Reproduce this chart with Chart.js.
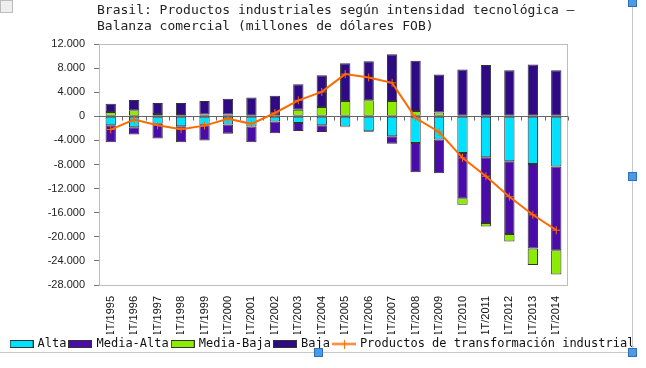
<!DOCTYPE html>
<html>
<head>
<meta charset="utf-8">
<script src="https://cdn.jsdelivr.net/npm/chart.js@4.4.1/dist/chart.umd.min.js"></script>
<style>
  html, body { margin: 0; padding: 0; background: #fff; }
  #wrap { position: relative; width: 646px; height: 368px; overflow: hidden; }
  #chart { position: absolute; left: 0; top: 0; }
  #title {
    position: absolute; left: 97px; top: 2px;
    font: 13px/16px "DejaVu Sans Mono", monospace; color: #222; white-space: pre;
  }
  .frame-r { position: absolute; left: 632px; top: 0; width: 1px; height: 352px; background: #c8c8c8; }
  .frame-b { position: absolute; left: 0; top: 352px; width: 632px; height: 1px; background: #c8c8c8; }
  .handle { position: absolute; width: 7px; height: 7px; background: #4a9be6; border: 1px solid #2d6fb8; }
  .icon { position: absolute; left: 0; top: 0; width: 11px; height: 11px; border: 1px solid #bbb; background: #eee; }
</style>
</head>
<body>
<div id="wrap">
  <canvas id="chart" width="646" height="368"></canvas>
  <div id="title">Brasil: Productos industriales según intensidad tecnológica –
Balanza comercial (millones de dólares FOB)</div>
  <div class="icon"></div>
  <div class="frame-r"></div>
  <div class="frame-b"></div>
  <div class="handle" style="left:628px;top:-2px"></div>
  <div class="handle" style="left:628px;top:172px"></div>
  <div class="handle" style="left:628px;top:348px"></div>
  <div class="handle" style="left:314px;top:348px"></div>
</div>
<script>
// categorías (trimestre 1 de cada año)
const categories = ['1T/1995', '1T/1996', '1T/1997', '1T/1998', '1T/1999', '1T/2000', '1T/2001',
  '1T/2002', '1T/2003', '1T/2004', '1T/2005', '1T/2006', '1T/2007', '1T/2008', '1T/2009',
  '1T/2010', '1T/2011', '1T/2012', '1T/2013', '1T/2014'];

// series (millones de dólares FOB)
const alta = [-1500, -1800, -1250, -1650, -1500, -1350, -1700, -850, -1100, -1500,
  -1700, -2500, -3300, -4450, -3850, -6100, -6800, -7450, -7900, -8350];
const mediaAlta = [-2800, -1200, -2450, -2650, -2500, -1550, -2600, -1950, -1350, -1100,
  -100, -100, -1250, -4850, -5600, -7500, -10900, -12100, -14050, -13900];
const mediaBaja = [700, 1000, 400, 200, 300, 300, 100, 100, 1100, 1550,
  2550, 2650, 2550, 900, 650, -1100, -600, -1250, -2750, -4000];
const baja = [1400, 1700, 1800, 2000, 2250, 2600, 3000, 3300, 4200, 5250,
  6250, 6500, 7750, 8300, 6300, 7750, 8500, 7650, 8600, 7650];
const transformacion = [-2200, -550, -1500, -2150, -1550, -400, -1250, 550, 2650, 4050,
  7000, 6450, 5550, -300, -2600, -6900, -9950, -13350, -16350, -18900];

// eje Y
const yMin = -28000;
const yMax = 12000;
const yStep = 4000;

const colors = {
  alta: '#00e1ff',
  mediaAlta: '#4a0ca8',
  mediaBaja: '#8ceb00',
  baja: '#2e0a85',
  linea: '#ff6a00'
};

function fmtMiles(v) {
  const s = String(Math.abs(v)).replace(/\B(?=(\d{3})+(?!\d))/g, '.');
  return (v < 0 ? '-' : '') + s;
}

// iconos de leyenda dibujados a mano
function boxIcon(color) {
  const c = document.createElement('canvas');
  c.width = 24; c.height = 8;
  const g = c.getContext('2d');
  g.fillStyle = color;
  g.fillRect(0, 0, 24, 8);
  g.strokeStyle = '#333';
  g.lineWidth = 1;
  g.strokeRect(0.5, 0.5, 23, 7);
  return c;
}
function lineIcon(color) {
  const c = document.createElement('canvas');
  c.width = 24; c.height = 9;
  const g = c.getContext('2d');
  g.strokeStyle = color;
  g.lineWidth = 2;
  g.beginPath(); g.moveTo(0, 4.5); g.lineTo(24, 4.5); g.stroke();
  g.lineWidth = 1;
  g.beginPath(); g.moveTo(12.5, 0); g.lineTo(12.5, 9); g.stroke();
  return c;
}
const legendIcons = [boxIcon(colors.alta), boxIcon(colors.mediaAlta), boxIcon(colors.mediaBaja),
  boxIcon(colors.baja), lineIcon(colors.linea)];

// marco del área de trazado + línea del cero con marcas
const plotFrame = {
  id: 'plotFrame',
  beforeDatasetsDraw(chart) {
    const { ctx, chartArea: a, scales } = chart;
    const y0 = Math.round(scales.y.getPixelForValue(0)) + 0.5;
    ctx.save();
    ctx.strokeStyle = '#bdbdbd';
    ctx.lineWidth = 1;
    ctx.strokeRect(a.left + 0.5, a.top + 0.5, a.right - a.left - 1, a.bottom - a.top);
    ctx.strokeStyle = '#666';
    ctx.beginPath();
    ctx.moveTo(a.left, y0); ctx.lineTo(a.right, y0);
    const w = (a.right - a.left) / categories.length;
    for (let i = 1; i <= categories.length; i++) {
      const x = Math.round(a.left + i * w) + 0.5;
      ctx.moveTo(x, y0); ctx.lineTo(x, y0 + 4);
    }
    ctx.stroke();
    ctx.restore();
  }
};

const barCommon = { borderColor: '#333', borderWidth: 1, borderSkipped: false, order: 1,
  barPercentage: 0.44, categoryPercentage: 1 };

new Chart(document.getElementById('chart'), {
  type: 'bar',
  data: {
    labels: categories,
    datasets: [
      { label: 'Alta', data: alta, backgroundColor: colors.alta, ...barCommon },
      { label: 'Media-Alta', data: mediaAlta, backgroundColor: colors.mediaAlta, ...barCommon },
      { label: 'Media-Baja', data: mediaBaja, backgroundColor: colors.mediaBaja, ...barCommon },
      { label: 'Baja', data: baja, backgroundColor: colors.baja, ...barCommon },
      {
        type: 'line', label: 'Productos de transformación industrial', data: transformacion,
        stack: 'linea', order: 0,
        borderColor: colors.linea, backgroundColor: colors.linea, borderWidth: 2,
        pointStyle: 'cross', pointRadius: 4, pointBorderWidth: 1, pointBorderColor: colors.linea,
        tension: 0, fill: false
      }
    ]
  },
  options: {
    responsive: false,
    animation: false,
    layout: { padding: { top: 44, bottom: 8, left: 0, right: 0 } },
    scales: {
      x: {
        stacked: true,
        grid: { display: false, drawTicks: false },
        border: { display: false },
        ticks: {
          minRotation: 90, maxRotation: 90, padding: 11, autoSkip: false,
          color: '#111', font: { family: '"Liberation Sans", Arial, sans-serif', size: 11 }
        },
        afterFit: s => { s.height = 49; }
      },
      y: {
        stacked: true,
        min: yMin, max: yMax,
        grid: { drawOnChartArea: false, drawTicks: true, tickLength: 5, color: '#777' },
        border: { color: '#777' },
        ticks: {
          stepSize: yStep, padding: 9, color: '#222',
          font: { family: '"Liberation Sans", Arial, sans-serif', size: 11 },
          callback: v => fmtMiles(v)
        },
        afterFit: s => { s.width = 99; }
      },
      yR: {
        position: 'right', display: true,
        grid: { display: false }, border: { display: false }, ticks: { display: false },
        afterFit: s => { s.width = 78; }
      }
    },
    plugins: {
      tooltip: { enabled: false },
      legend: {
        position: 'bottom',
        labels: {
          usePointStyle: true, pointStyleWidth: 20, boxHeight: 8, padding: 4,
          color: '#111', font: { family: '"DejaVu Sans Mono", monospace', size: 12 },
          sort: (a, b) => a.datasetIndex - b.datasetIndex,
          generateLabels: chart => {
            const items = Chart.defaults.plugins.legend.labels.generateLabels(chart);
            items.forEach(it => { it.pointStyle = legendIcons[it.datasetIndex]; });
            return items;
          }
        }
      }
    }
  },
  plugins: [plotFrame]
});
</script>
</body>
</html>
